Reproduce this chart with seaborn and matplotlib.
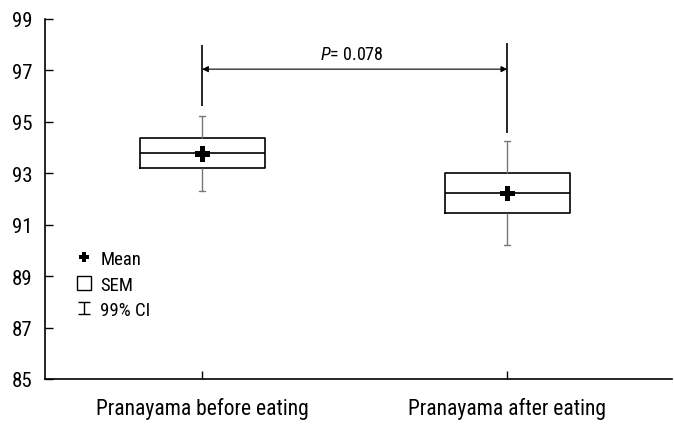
import numpy as np
import pandas as pd
import matplotlib
matplotlib.use("Agg")
import matplotlib.pyplot as plt
import seaborn as sns
from matplotlib.lines import Line2D
from matplotlib.patches import Rectangle
from matplotlib.path import Path
from matplotlib import font_manager

# values
groups = ["Pranayama before eating", "Pranayama after eating"]
ci_low = [92.3, 90.2]
sem_low = [93.2, 91.45]
median = [93.8, 92.23]
sem_high = [94.37, 93.0]
ci_high = [95.23, 94.25]
means = [93.75, 92.2]

# comparison bracket
bracket_bottom = [95.6, 94.55]
bracket_top = [98.0, 98.07]
arrow_y = 97.05
p_text = "$\\it{P}$= 0.078"

yticks = [85, 87, 89, 91, 93, 95, 97, 99]

# five points per group so the box = SEM range and whiskers = 99% CI
rows = []
for i, g in enumerate(groups):
    for v in [ci_low[i], sem_low[i], median[i], sem_high[i], ci_high[i]]:
        rows.append({"group": g, "value": v})
df = pd.DataFrame(rows)
mean_df = pd.DataFrame({"group": groups, "value": means})

sns.set_style("white")
names = {f.name for f in font_manager.fontManager.ttflist}
font = [n for n in ["Roboto Condensed", "Liberation Sans Narrow",
                    "DejaVu Sans"] if n in names]
plt.rcParams["font.family"] = font
plt.rcParams["font.stretch"] = "condensed"
plt.rcParams["mathtext.fontset"] = "custom"
plt.rcParams["mathtext.it"] = font[0] + ":italic"

fig = plt.figure(figsize=(6.74, 4.31), dpi=100)
ax = fig.add_axes([45 / 674, 51 / 431, 627 / 674, 360 / 431])

sns.boxplot(data=df, x="group", y="value", order=groups, whis=(0, 100),
            width=0.41, fill=False, color="black", linewidth=1.2,
            capwidths=0.018,
            whiskerprops={"color": "#777777", "linewidth": 1.0},
            capprops={"color": "#777777", "linewidth": 1.0},
            medianprops={"color": "black", "linewidth": 1.2},
            showfliers=False, ax=ax)
sns.scatterplot(data=mean_df, x="group", y="value", marker="P", s=120,
                color="black", edgecolor="none", ax=ax, zorder=5)

# bracket lines and arrow
ax.vlines([0, 1], bracket_bottom, bracket_top, color="black", linewidth=1.2)
ax.annotate("", xy=(0, arrow_y), xytext=(1, arrow_y),
            arrowprops=dict(arrowstyle="<|-|>", color="black", lw=0.8,
                            mutation_scale=9, shrinkA=0, shrinkB=0))
ax.text(0.49, arrow_y + 0.25, p_text, ha="center", va="bottom", fontsize=13,
        color="black")

ax.set_xlim(-0.515, 1.54)
ax.set_ylim(85, 99)
ax.set_yticks(yticks)
ax.set_xlabel("")
ax.set_ylabel("")
ax.tick_params(axis="both", direction="in", length=6, width=1, labelsize=15,
               colors="black", left=True, bottom=True)
ax.tick_params(axis="x", labelsize=15.5, pad=13)
ax.tick_params(axis="y", pad=9)
for s in ["top", "right"]:
    ax.spines[s].set_visible(False)
for s in ["left", "bottom"]:
    ax.spines[s].set_color("black")
    ax.spines[s].set_linewidth(1.2)

# legend
ci_path = Path([(-1, 1), (1, 1), (0, 1), (0, -1), (-1, -1), (1, -1)],
               [Path.MOVETO, Path.LINETO, Path.MOVETO, Path.LINETO,
                Path.MOVETO, Path.LINETO])
handles = [
    Line2D([], [], marker="P", ls="none", color="black", markersize=7,
           markeredgewidth=0),
    Rectangle((0, 0), 1, 1, facecolor="white", edgecolor="black", lw=1),
    Line2D([], [], marker=ci_path, ls="none", color="black", markersize=9,
           markeredgewidth=1),
]
leg = ax.legend(handles, ["Mean", "SEM", "99% CI"], loc="upper left",
                bbox_to_anchor=(0.051, 0.358), frameon=False, fontsize=13.5,
                borderpad=0, borderaxespad=0,
                handlelength=0.75, handleheight=0.75, handletextpad=0.5,
                labelspacing=0.4)
for t in leg.get_texts():
    t.set_color("black")

fig.savefig("out.png", dpi=100)
